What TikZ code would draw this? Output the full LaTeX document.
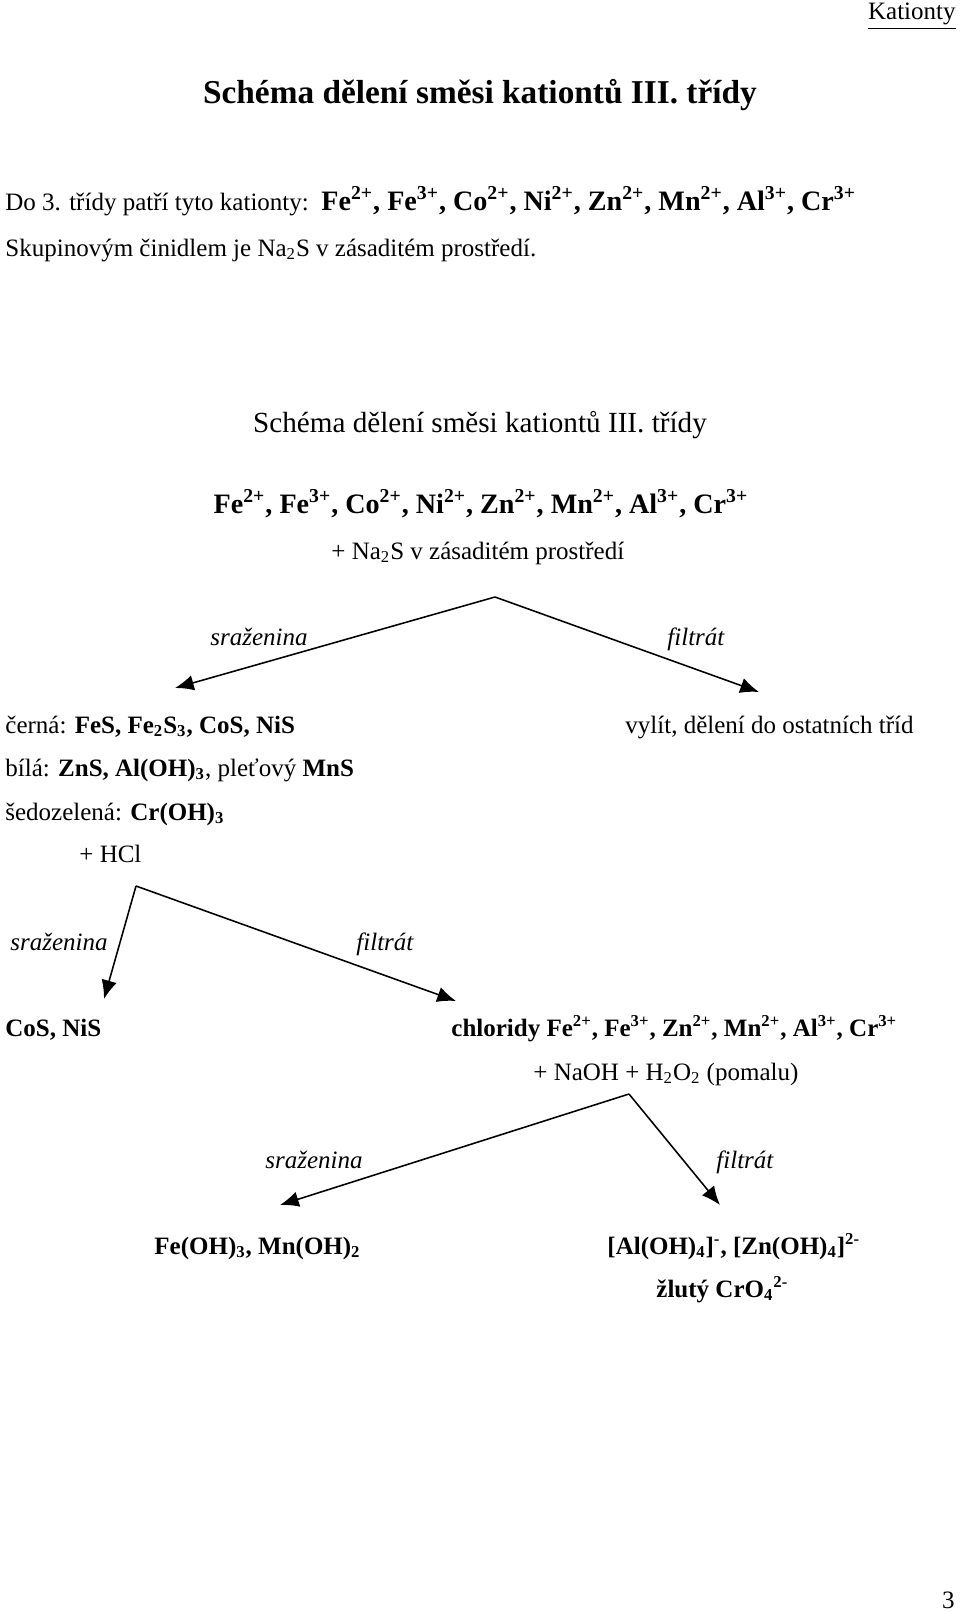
\documentclass[tikz,border=0pt]{standalone}
\usepackage{fontspec}
\setmainfont{Liberation Serif}
\usepackage{tikz}
\usetikzlibrary{arrows.meta}

% cations of the third group
\newcommand{\katlist}{Fe\textsuperscript{2+}, Fe\textsuperscript{3+}, Co\textsuperscript{2+}, Ni\textsuperscript{2+}, Zn\textsuperscript{2+}, Mn\textsuperscript{2+}, Al\textsuperscript{3+}, Cr\textsuperscript{3+}}

\tikzset{
  txt/.style={anchor=base west, inner sep=0pt, font=\fontsize{12}{14}\selectfont},
  btxt/.style={txt, font=\fontsize{12}{14}\selectfont\bfseries},
  lbl/.style={txt, font=\fontsize{12}{14}\selectfont\itshape},
  branch/.style={-{Latex[length=9pt,width=7.5pt]}, line width=0.75pt},
}

\begin{document}
\begin{tikzpicture}[x=0.48pt, y=-0.48pt]
\useasboundingbox (0,0) rectangle (960,1613);

% header and introduction
\node[txt, anchor=base east] (hdr) at (956,20) {\underline{Kationty}};
\node[anchor=base, inner sep=0pt, font=\fontsize{16}{19}\selectfont\bfseries] (title) at (480,104) {Schéma dělení směsi kationtů III. třídy};
\node[txt] (intro) at (5,210) {Do 3. třídy patří tyto kationty:};
\node[txt, font=\fontsize{13.5}{16}\selectfont\bfseries] (list) at (321,210) {\katlist};
\node[txt] (group) at (5,256) {Skupinovým činidlem je Na\textsubscript{2}S v zásaditém prostředí.};

% scheme
\node[anchor=base, inner sep=0pt, font=\fontsize{14}{17}\selectfont] (schema) at (480,432) {Schéma dělení směsi kationtů III. třídy};
\node[anchor=base, inner sep=0pt, font=\fontsize{13.5}{16}\selectfont\bfseries] (mix) at (481,513) {\katlist};
\node[txt] (reag1) at (331,559) {+ Na\textsubscript{2}S v zásaditém prostředí};

% first split
\coordinate (s1) at (495,597);
\coordinate (p1) at (175,688);
\coordinate (f1) at (759,692);
\draw[branch] (s1) -- (p1);
\draw[branch] (s1) -- (f1);
\node[lbl] (pl1) at (210,645) {sraženina};
\node[lbl] (fl1) at (667,645) {filtrát};

\node[txt] (black) at (5,733) {černá: \textbf{FeS, Fe\textsubscript{2}S\textsubscript{3}, CoS, NiS}};
\node[txt] (pour) at (625,733) {vylít, dělení do ostatních tříd};
\node[txt] (white) at (5,776) {bílá: \textbf{ZnS, Al(OH)\textsubscript{3}}, pleťový \textbf{MnS}};
\node[txt] (grey) at (5,820) {šedozelená: \textbf{Cr(OH)\textsubscript{3}}};
\node[txt] (reag2) at (79,862) {+ HCl};

% second split
\coordinate (s2) at (136,886);
\coordinate (p2) at (104,999);
\coordinate (f2) at (456,1001);
\draw[branch] (s2) -- (p2);
\draw[branch] (s2) -- (f2);
\node[lbl] (pl2) at (10,950) {sraženina};
\node[lbl] (fl2) at (356,950) {filtrát};

\node[btxt] (cons) at (5,1036) {CoS, NiS};
\node[btxt] (chlor) at (451,1036) {chloridy Fe\textsuperscript{2+}, Fe\textsuperscript{3+}, Zn\textsuperscript{2+}, Mn\textsuperscript{2+}, Al\textsuperscript{3+}, Cr\textsuperscript{3+}};
\node[txt] (reag3) at (533,1080) {+ NaOH + H\textsubscript{2}O\textsubscript{2} (pomalu)};

% third split
\coordinate (s3) at (629,1094);
\coordinate (p3) at (280,1205);
\coordinate (f3) at (720,1205);
\draw[branch] (s3) -- (p3);
\draw[branch] (s3) -- (f3);
\node[lbl] (pl3) at (265,1168) {sraženina};
\node[lbl] (fl3) at (716,1168) {filtrát};

\node[btxt] (hydr) at (154,1254) {Fe(OH)\textsubscript{3}, Mn(OH)\textsubscript{2}};
\node[btxt] (compl) at (607,1254) {[Al(OH)\textsubscript{4}]\textsuperscript{-}, [Zn(OH)\textsubscript{4}]\textsuperscript{2-}};
\node[btxt] (chrom) at (656,1297) {žlutý CrO\textsubscript{4}\textsuperscript{2-}};

\node[txt, anchor=base east] (pg) at (955,1608) {3};
\end{tikzpicture}
\end{document}
